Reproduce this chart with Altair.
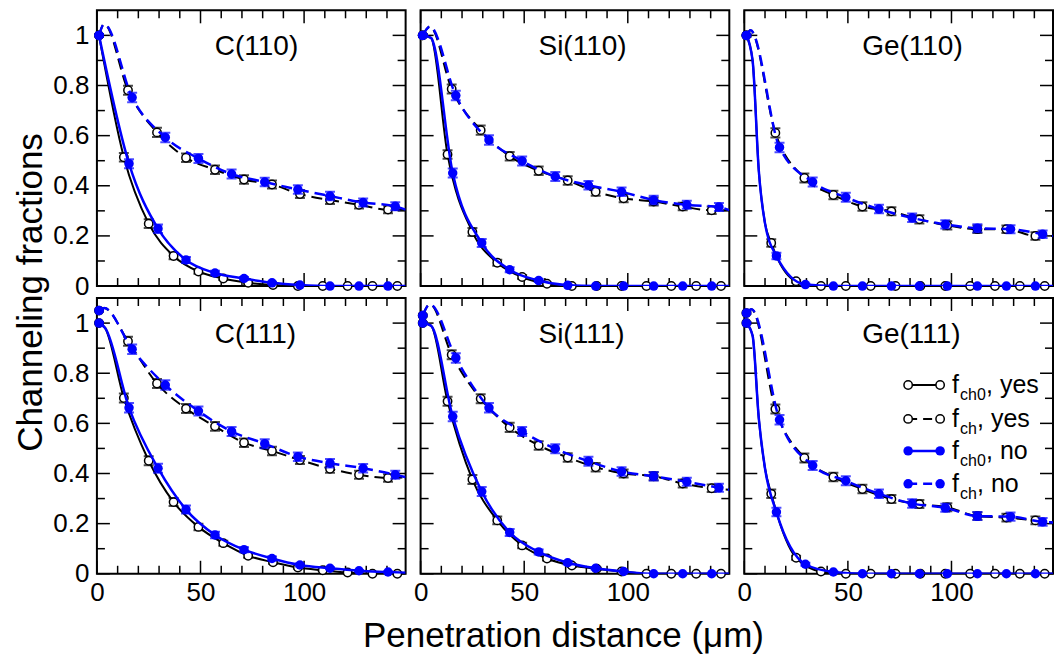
import altair as alt
import pandas as pd

FONT = "Liberation Sans"
W, H = 309, 276
BLACK, BLUE = "#000000", "#0000ff"
XDOM = [0, 149]
YDOM = [0, 1.1]

PANELS = ["C(110)", "Si(110)", "Ge(110)", "C(111)", "Si(111)", "Ge(111)"]

X_MAJOR = [0, 50, 100]
X_MINOR = [10, 20, 30, 40, 60, 70, 80, 90, 110, 120, 130, 140]
Y_MAJOR = [0, 0.2, 0.4, 0.6, 0.8, 1.0]
Y_MINOR = [0.1, 0.3, 0.5, 0.7, 0.9]

# x positions of the simulated points
X_CH0_YES = [1, 13, 25, 37, 49, 61, 73, 85, 97, 109, 121, 133, 145]
X_CH_YES = [1, 15, 29, 43, 57, 71, 84.5, 98, 112.5, 126.5, 140.5]
X_CH0_NO = [1, 15.5, 29.5, 43, 57, 71, 84.5, 98, 112.5, 126.5, 140.5]
X_CH_NO = [1, 17, 33, 49, 65, 81, 97, 112.5, 128.5, 144]

# ---- C(110)
C110_CH0_YES = [1.0, 0.514, 0.249, 0.12, 0.058, 0.03, 0.013, 0.004, 0.0, 0.0, 0.0, 0.0, 0.0]
C110_CH_YES = [1.0, 0.781, 0.613, 0.512, 0.464, 0.425, 0.405, 0.367, 0.343, 0.324, 0.305]
C110_CH0_NO = [1.0, 0.488, 0.229, 0.104, 0.052, 0.03, 0.013, 0.004, 0.0, 0.0, 0.0]
C110_CH_NO = [1.0, 0.752, 0.593, 0.509, 0.447, 0.415, 0.385, 0.359, 0.333, 0.318]
C110_E_CH0_YES = [0.004, 0.017, 0.017, 0.013, 0.009, 0.006, 0.004, 0.002, 0, 0, 0, 0, 0]
C110_E_CH_YES = [0.004, 0.018, 0.018, 0.017, 0.017, 0.017, 0.016, 0.016, 0.016, 0.015, 0.015]
C110_E_CH0_NO = [0.004, 0.018, 0.017, 0.012, 0.009, 0.006, 0.004, 0.002, 0, 0, 0]
C110_E_CH_NO = [0.004, 0.019, 0.019, 0.018, 0.018, 0.017, 0.017, 0.017, 0.016, 0.016]
C110_KX_SOLID, C110_KY_SOLID = [149], [0.0]
C110_KX_DASH, C110_KY_DASH = [3.5, 149], [1.045, 0.305]

# ---- Si(110)
SI110_CH0_YES = [1.0, 0.525, 0.216, 0.093, 0.036, 0.009, 0.0, 0.0, 0.0, 0.0, 0.0, 0.0, 0.0]
SI110_CH_YES = [1.0, 0.786, 0.622, 0.518, 0.46, 0.421, 0.376, 0.35, 0.337, 0.317, 0.302]
SI110_CH0_NO = [1.0, 0.451, 0.172, 0.065, 0.022, 0.003, 0.0, 0.0, 0.0, 0.0, 0.0]
SI110_CH_NO = [1.0, 0.76, 0.583, 0.499, 0.437, 0.402, 0.376, 0.343, 0.324, 0.315]
SI110_E_CH0_YES = [0.004, 0.017, 0.016, 0.012, 0.008, 0.004, 0, 0, 0, 0, 0, 0, 0]
SI110_E_CH_YES = [0.004, 0.018, 0.018, 0.017, 0.017, 0.017, 0.016, 0.016, 0.016, 0.015, 0.015]
SI110_E_CH0_NO = [0.004, 0.018, 0.016, 0.01, 0.006, 0.002, 0, 0, 0, 0, 0]
SI110_E_CH_NO = [0.004, 0.019, 0.019, 0.018, 0.018, 0.017, 0.017, 0.017, 0.016, 0.016]
SI110_KX_SOLID, SI110_KY_SOLID = [5, 149], [0.99, 0.0]
SI110_KX_DASH, SI110_KY_DASH = [4.5, 149], [1.035, 0.303]

# ---- Ge(110)
GE110_CH0_YES = [1.0, 0.172, 0.019, 0.0, 0.0, 0.0, 0.0, 0.0, 0.0, 0.0, 0.0, 0.0, 0.0]
GE110_CH_YES = [1.0, 0.611, 0.431, 0.363, 0.317, 0.298, 0.266, 0.242, 0.227, 0.227, 0.2]
GE110_CH0_NO = [1.0, 0.12, 0.006, 0.0, 0.0, 0.0, 0.0, 0.0, 0.0, 0.0, 0.0]
GE110_CH_NO = [1.0, 0.553, 0.415, 0.354, 0.307, 0.272, 0.246, 0.231, 0.227, 0.207]
GE110_E_CH0_YES = [0.004, 0.015, 0.005, 0, 0, 0, 0, 0, 0, 0, 0, 0, 0]
GE110_E_CH_YES = [0.004, 0.018, 0.018, 0.017, 0.017, 0.016, 0.016, 0.016, 0.015, 0.015, 0.015]
GE110_E_CH0_NO = [0.004, 0.013, 0.003, 0, 0, 0, 0, 0, 0, 0, 0]
GE110_E_CH_NO = [0.004, 0.019, 0.018, 0.018, 0.017, 0.017, 0.016, 0.016, 0.016, 0.015]
GE110_KX_SOLID, GE110_KY_SOLID = [4, 7, 10, 149], [0.9, 0.46, 0.25, 0.0]
GE110_KX_DASH, GE110_KY_DASH = [3, 149], [1.02, 0.2]

# ---- C(111)
C111_CH0_YES = [1.0, 0.701, 0.451, 0.286, 0.187, 0.122, 0.072, 0.046, 0.025, 0.014, 0.005, 0.0, 0.0]
C111_CH_YES = [1.05, 0.928, 0.759, 0.659, 0.588, 0.523, 0.49, 0.454, 0.419, 0.395, 0.382]
C111_CH0_NO = [1.0, 0.662, 0.421, 0.256, 0.155, 0.096, 0.061, 0.035, 0.022, 0.012, 0.007]
C111_CH_NO = [1.05, 0.896, 0.753, 0.649, 0.568, 0.519, 0.467, 0.441, 0.421, 0.395]
C111_E_CH0_YES = [0.004, 0.018, 0.018, 0.016, 0.013, 0.01, 0.008, 0.006, 0.004, 0.003, 0.002, 0, 0]
C111_E_CH_YES = [0.004, 0.018, 0.018, 0.018, 0.017, 0.017, 0.017, 0.016, 0.016, 0.016, 0.015]
C111_E_CH0_NO = [0.004, 0.019, 0.018, 0.016, 0.013, 0.01, 0.008, 0.006, 0.004, 0.003, 0.002]
C111_E_CH_NO = [0.004, 0.019, 0.019, 0.018, 0.018, 0.018, 0.017, 0.017, 0.017, 0.016]
C111_KX_SOLID, C111_KY_SOLID = [4, 149], [0.98, 0.004]
C111_KX_DASH, C111_KY_DASH = [3.5, 149], [1.06, 0.385]

# ---- Si(111)
SI111_CH0_YES = [1.0, 0.688, 0.376, 0.213, 0.113, 0.061, 0.033, 0.02, 0.009, 0.0, 0.0, 0.0, 0.0]
SI111_CH_YES = [1.03, 0.874, 0.698, 0.584, 0.512, 0.464, 0.425, 0.4, 0.389, 0.36, 0.341]
SI111_CH0_NO = [1.0, 0.627, 0.328, 0.165, 0.087, 0.044, 0.022, 0.009, 0.0, 0.0, 0.0]
SI111_CH_NO = [1.03, 0.861, 0.662, 0.568, 0.499, 0.449, 0.408, 0.389, 0.367, 0.343]
SI111_E_CH0_YES = [0.004, 0.018, 0.018, 0.015, 0.011, 0.008, 0.006, 0.004, 0.002, 0, 0, 0, 0]
SI111_E_CH_YES = [0.004, 0.018, 0.018, 0.018, 0.017, 0.017, 0.017, 0.016, 0.016, 0.016, 0.015]
SI111_E_CH0_NO = [0.004, 0.019, 0.018, 0.014, 0.01, 0.007, 0.005, 0.003, 0, 0, 0]
SI111_E_CH_NO = [0.004, 0.019, 0.019, 0.018, 0.018, 0.018, 0.017, 0.017, 0.016, 0.016]
SI111_KX_SOLID, SI111_KY_SOLID = [5, 149], [0.99, 0.0]
SI111_KX_DASH, SI111_KY_DASH = [4.5, 149], [1.075, 0.335]

# ---- Ge(111)
GE111_CH0_YES = [1.0, 0.319, 0.064, 0.009, 0.0, 0.0, 0.0, 0.0, 0.0, 0.0, 0.0, 0.0, 0.0]
GE111_CH_YES = [1.04, 0.657, 0.462, 0.386, 0.338, 0.298, 0.278, 0.265, 0.23, 0.224, 0.213]
GE111_CH0_NO = [1.0, 0.246, 0.038, 0.007, 0.0, 0.0, 0.0, 0.0, 0.0, 0.0, 0.0]
GE111_CH_NO = [1.04, 0.614, 0.432, 0.371, 0.319, 0.28, 0.263, 0.23, 0.228, 0.207]
GE111_E_CH0_YES = [0.004, 0.017, 0.008, 0.003, 0, 0, 0, 0, 0, 0, 0, 0, 0]
GE111_E_CH_YES = [0.004, 0.018, 0.018, 0.017, 0.017, 0.016, 0.016, 0.016, 0.015, 0.015, 0.015]
GE111_E_CH0_NO = [0.004, 0.017, 0.006, 0.002, 0, 0, 0, 0, 0, 0, 0]
GE111_E_CH_NO = [0.004, 0.019, 0.018, 0.018, 0.017, 0.017, 0.016, 0.016, 0.016, 0.015]
GE111_KX_SOLID, GE111_KY_SOLID = [4, 7, 10, 149], [0.95, 0.62, 0.42, 0.0]
GE111_KX_DASH, GE111_KY_DASH = [3.5, 149], [1.055, 0.205]

LEGEND_SUB = ["ch0", "ch", "ch0", "ch"]
LEGEND_TAIL = [", yes", ", yes", ", no", ", no"]

PANEL_DATA = {
    "C(110)": ((C110_CH0_YES, C110_E_CH0_YES), (C110_CH_YES, C110_E_CH_YES),
               (C110_CH0_NO, C110_E_CH0_NO), (C110_CH_NO, C110_E_CH_NO),
               (C110_KX_SOLID, C110_KY_SOLID), (C110_KX_DASH, C110_KY_DASH)),
    "Si(110)": ((SI110_CH0_YES, SI110_E_CH0_YES), (SI110_CH_YES, SI110_E_CH_YES),
                (SI110_CH0_NO, SI110_E_CH0_NO), (SI110_CH_NO, SI110_E_CH_NO),
                (SI110_KX_SOLID, SI110_KY_SOLID), (SI110_KX_DASH, SI110_KY_DASH)),
    "Ge(110)": ((GE110_CH0_YES, GE110_E_CH0_YES), (GE110_CH_YES, GE110_E_CH_YES),
                (GE110_CH0_NO, GE110_E_CH0_NO), (GE110_CH_NO, GE110_E_CH_NO),
                (GE110_KX_SOLID, GE110_KY_SOLID), (GE110_KX_DASH, GE110_KY_DASH)),
    "C(111)": ((C111_CH0_YES, C111_E_CH0_YES), (C111_CH_YES, C111_E_CH_YES),
               (C111_CH0_NO, C111_E_CH0_NO), (C111_CH_NO, C111_E_CH_NO),
               (C111_KX_SOLID, C111_KY_SOLID), (C111_KX_DASH, C111_KY_DASH)),
    "Si(111)": ((SI111_CH0_YES, SI111_E_CH0_YES), (SI111_CH_YES, SI111_E_CH_YES),
                (SI111_CH0_NO, SI111_E_CH0_NO), (SI111_CH_NO, SI111_E_CH_NO),
                (SI111_KX_SOLID, SI111_KY_SOLID), (SI111_KX_DASH, SI111_KY_DASH)),
    "Ge(111)": ((GE111_CH0_YES, GE111_E_CH0_YES), (GE111_CH_YES, GE111_E_CH_YES),
                (GE111_CH0_NO, GE111_E_CH0_NO), (GE111_CH_NO, GE111_E_CH_NO),
                (GE111_KX_SOLID, GE111_KY_SOLID), (GE111_KX_DASH, GE111_KY_DASH)),
}

# series: (x list, color, dashed, filled)
SERIES = [
    (X_CH0_YES, BLACK, False, False),
    (X_CH_YES, BLACK, True, False),
    (X_CH0_NO, BLUE, False, True),
    (X_CH_NO, BLUE, True, True),
]
DASH = [11, 6]

xs = alt.Scale(domain=XDOM, nice=False, zero=False)
ys = alt.Scale(domain=YDOM, nice=False, zero=False)


def x_axis(row, col):
    if row == 0:
        return None
    kw = dict(values=X_MAJOR, ticks=False, domain=False, grid=False, labelFlush=False,
              labelPadding=6, labelFontSize=26, labelFont=FONT)
    if col == 1:
        kw.update(title="Penetration distance (μm)", titleFontSize=35, titlePadding=13,
                  titleFont=FONT, titleX=W / 2 - 12, titleFontWeight="normal")
    else:
        kw.update(title=None)
    return alt.Axis(**kw)


def y_axis(row, col):
    if col != 0:
        return None
    kw = dict(values=Y_MAJOR, format="~g", ticks=False, domain=False, grid=False,
              labelPadding=8, labelFontSize=26, labelFont=FONT)
    if row == 1:
        kw.update(title="Channeling fractions", titleFontSize=35, titlePadding=4,
                  titleFont=FONT, titleY=-6, titleFontWeight="normal")
    else:
        kw.update(title=None)
    return alt.Axis(**kw)


def tick_layers(xax, yax):
    out = []
    for vals, ln in ((X_MAJOR, 13), (X_MINOR, 8)):
        base = alt.Chart(pd.DataFrame({"v": vals})).mark_rule(color=BLACK, strokeWidth=1.5)
        xe = alt.X("v:Q", scale=xs, axis=xax)
        out.append(base.encode(x=xe, y=alt.value(H), y2=alt.value(H - ln)))
        out.append(base.encode(x=xe, y=alt.value(0), y2=alt.value(ln)))
    for vals, ln in ((Y_MAJOR, 13), (Y_MINOR, 8)):
        base = alt.Chart(pd.DataFrame({"v": vals})).mark_rule(color=BLACK, strokeWidth=1.5)
        ye = alt.Y("v:Q", scale=ys, axis=yax)
        out.append(base.encode(y=ye, x=alt.value(0), x2=alt.value(ln)))
        out.append(base.encode(y=ye, x=alt.value(W), x2=alt.value(W - ln)))
    return out


def legend_layers():
    out = []
    one = pd.DataFrame({"k": [0]})
    rows_y = [87, 121, 153, 186]
    for i, (xv, color, dashed, filled) in enumerate(SERIES):
        yy = rows_y[i]
        sw = 2.5 if color == BLUE else 2
        rule_kw = dict(color=color, strokeWidth=sw)
        if dashed:
            rule_kw["strokeDash"] = [9, 6]
        out.append(alt.Chart(one).mark_rule(**rule_kw).encode(
            x=alt.value(164), x2=alt.value(196), y=alt.value(yy)))
        for px in (164, 196):
            if filled:
                pm = alt.Chart(one).mark_point(shape="circle", filled=True, color=color, size=90, opacity=1)
            else:
                pm = alt.Chart(one).mark_point(shape="circle", fill="white", fillOpacity=1, stroke=BLACK,
                                               strokeWidth=1.5, size=70, opacity=1)
            out.append(pm.encode(x=alt.value(px), y=alt.value(yy)))
        tdf = pd.DataFrame({"sub": [LEGEND_SUB[i]], "tail": [LEGEND_TAIL[i]], "f": ["f"]})
        out.append(alt.Chart(tdf).mark_text(font=FONT, fontSize=25, align="left", baseline="alphabetic",
                                            color=BLACK).encode(
            text="f:N", x=alt.value(208), y=alt.value(yy + 8)))
        out.append(alt.Chart(tdf).mark_text(font=FONT, fontSize=16, align="left", baseline="alphabetic",
                                            color=BLACK).encode(
            text="sub:N", x=alt.value(216), y=alt.value(yy + 15)))
        tail_x = 242 if LEGEND_SUB[i] == "ch0" else 233
        out.append(alt.Chart(tdf).mark_text(font=FONT, fontSize=25, align="left", baseline="alphabetic",
                                            color=BLACK).encode(
            text="tail:N", x=alt.value(tail_x), y=alt.value(yy + 8)))
    return out


def panel(idx):
    name = PANELS[idx]
    row, col = divmod(idx, 3)
    xax, yax = x_axis(row, col), y_axis(row, col)
    d = PANEL_DATA[name]
    layers = tick_layers(xax, yax)
    for s, (xv, color, dashed, filled) in enumerate(SERIES):
        yv, ev = d[s]
        kx, ky = d[4] if not dashed else d[5]
        pts = pd.DataFrame({"x": xv, "y": yv,
                            "lo": [a - b for a, b in zip(yv, ev)],
                            "hi": [a + b for a, b in zip(yv, ev)]})
        line = pd.DataFrame({"x": list(xv) + list(kx), "y": list(yv) + list(ky)}).sort_values("x")
        sw = 2.5 if color == BLUE else 2
        lkw = dict(interpolate="monotone", color=color, strokeWidth=sw, clip=True)
        if dashed:
            lkw["strokeDash"] = DASH
        X = alt.X("x:Q", scale=xs, axis=xax)
        layers.append(alt.Chart(line).mark_line(**lkw).encode(
            x=X, y=alt.Y("y:Q", scale=ys, axis=yax)))
        layers.append(alt.Chart(pts).mark_rule(color=color, strokeWidth=2, clip=True).encode(
            x=X, y=alt.Y("lo:Q", scale=ys, axis=yax), y2="hi:Q"))
        for fld in ("lo", "hi"):
            layers.append(alt.Chart(pts).mark_tick(orient="horizontal", size=10, thickness=2,
                                                   color=color, clip=True).encode(
                x=X, y=alt.Y(f"{fld}:Q", scale=ys, axis=yax)))
        if filled:
            pm = alt.Chart(pts).mark_point(shape="circle", filled=True, color=color, size=90, opacity=1)
        else:
            pm = alt.Chart(pts).mark_point(shape="circle", fill="white", fillOpacity=1, stroke=BLACK,
                                           strokeWidth=1.5, size=70, opacity=1)
        layers.append(pm.encode(x=X, y=alt.Y("y:Q", scale=ys, axis=yax)))
    lab = pd.DataFrame({"t": [name]})
    layers.append(alt.Chart(lab).mark_text(font=FONT, fontSize=28, align="left", baseline="middle",
                                           color=BLACK).encode(
        text="t:N", x=alt.value(118), y=alt.value(37)))
    if name == "Ge(111)":
        layers += legend_layers()
    return alt.layer(*layers).properties(width=W, height=H)


chart = alt.concat(
    *[panel(i) for i in range(6)],
    columns=3,
    spacing=alt.RowColnumber(row=12, column=15),
    bounds="flush",
).properties(
    padding={"left": 4, "right": 0, "top": 0, "bottom": 0}
).configure_view(
    stroke=BLACK, strokeWidth=2
).configure_axis(
    labelColor=BLACK, titleColor=BLACK
)

chart.save("out.html", embed_options={"renderer": "svg", "actions": False})
